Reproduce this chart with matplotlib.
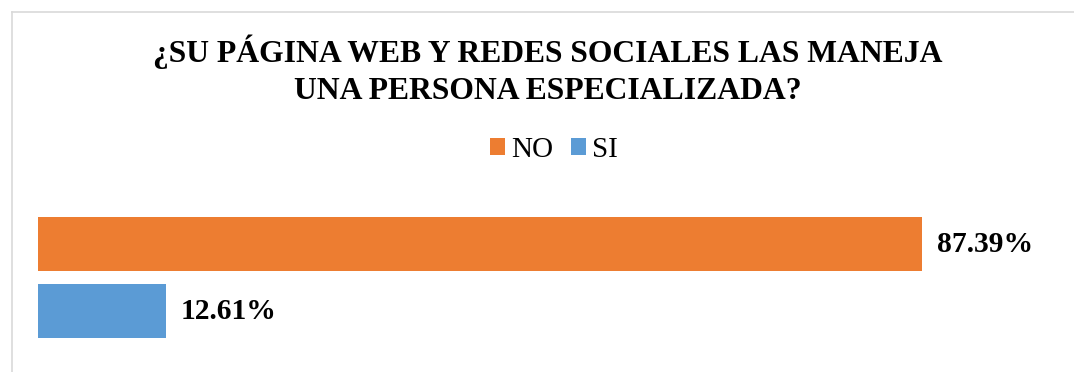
import matplotlib.pyplot as plt
from matplotlib.lines import Line2D

# Encuesta: manejo de página web y redes sociales
categorias = ['SI', 'NO']
porcentajes = [12.61, 87.39]
colores = ['#5B9BD5', '#ED7D31']
titulo = ['¿SU PÁGINA WEB Y REDES SOCIALES LAS MANEJA',
          'UNA PERSONA ESPECIALIZADA?']

plt.rcParams['font.family'] = ['Liberation Serif', 'DejaVu Serif']

fig = plt.figure(figsize=(10.74, 3.72), dpi=100)
ax = fig.add_axes([0.0354, 0.0739, 0.942, 0.3602])

pos = list(range(len(categorias)))
barras = ax.barh(pos, porcentajes, height=0.806, color=colores)
ax.set_xlim(0, 100)
ax.set_ylim(-0.5, 1.5)
ax.axis('off')

# etiquetas de valor al final de cada barra
for p, v in zip(pos, porcentajes):
    ax.annotate(f'{v:.2f}%', xy=(v, p), xytext=(11, 0), textcoords='offset points',
                ha='left', va='center', fontsize=21.3, fontweight='bold')

# titulo en dos lineas
fig.text(0.510, 1 - 62 / 372, titulo[0], ha='center', va='baseline',
         fontsize=22.8, fontweight='bold')
fig.text(0.510, 1 - 99 / 372, titulo[1], ha='center', va='baseline',
         fontsize=22.8, fontweight='bold')

# leyenda (NO primero, luego SI)
handles = [barras[1], barras[0]]
fig.legend(handles, [categorias[1], categorias[0]], loc='center', ncol=2,
           bbox_to_anchor=(554 / 1074, 1 - 150 / 372), frameon=False,
           fontsize=21, handlelength=0.52, handleheight=0.52,
           handletextpad=0.22, columnspacing=0.6, borderpad=0)

# borde del area del grafico
fig.add_artist(Line2D([12 / 1074, 12 / 1074], [0, 1 - 12 / 372],
                      color='#d9d9d9', lw=1.2, transform=fig.transFigure))
fig.add_artist(Line2D([12 / 1074, 1], [1 - 12 / 372, 1 - 12 / 372],
                      color='#d9d9d9', lw=1.2, transform=fig.transFigure))

fig.savefig('out.png', dpi=100)
